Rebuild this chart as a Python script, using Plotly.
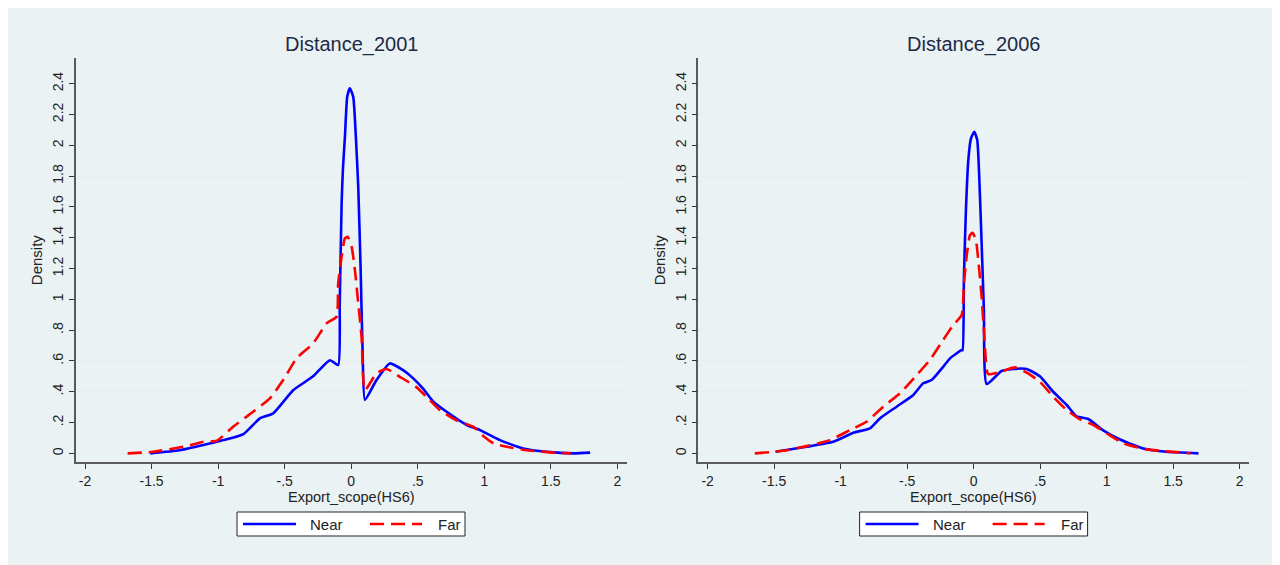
import plotly.graph_objects as go

# ---- data ----
# Distance_2001
near01_x = [-1.51, -1.29, -1.11, -0.96, -0.81, -0.686, -0.586, -0.436, -0.286, -0.16, -0.098,
            -0.086, -0.072, -0.062, -0.047, -0.03, -0.01, 0.015, 0.035, 0.053, 0.071, 0.086, 0.103,
            0.19, 0.29, 0.39, 0.466, 0.54, 0.617, 0.717, 0.868, 0.968, 1.118, 1.293, 1.469, 1.67, 1.795]
near01_y = [0.0, 0.02, 0.054, 0.086, 0.125, 0.227, 0.26, 0.41, 0.50, 0.605, 0.573,
            0.976, 1.625, 1.85, 2.056, 2.316, 2.37, 2.316, 2.056, 1.73, 1.19, 0.65, 0.346,
            0.476, 0.584, 0.54, 0.487, 0.42, 0.335, 0.27, 0.184, 0.151, 0.086, 0.032, 0.01, 0.0, 0.005]
far01_x = [-1.68, -1.49, -1.24, -1.11, -1.01, -0.887, -0.737, -0.611, -0.511, -0.41, -0.286, -0.185,
           -0.11, -0.098, -0.072, -0.047, -0.027, 0.003, 0.028, 0.053, 0.078, 0.103,
           0.19, 0.266, 0.366, 0.49, 0.59, 0.667, 0.79, 0.917, 0.99, 1.07, 1.17, 1.32, 1.52, 1.65]
far01_y = [0.0, 0.01, 0.047, 0.075, 0.082, 0.173, 0.27, 0.357, 0.476, 0.617, 0.714, 0.844,
           0.887, 1.10, 1.277, 1.396, 1.406, 1.342, 1.19, 0.974, 0.757, 0.41,
           0.52, 0.548, 0.497, 0.43, 0.346, 0.28, 0.215, 0.173, 0.115, 0.065, 0.043, 0.02, 0.005, 0.0]

# Distance_2006
near06_x = [-1.49, -1.256, -1.056, -0.905, -0.78, -0.705, -0.579, -0.454, -0.379, -0.316, -0.229,
            -0.178, -0.09, -0.083, -0.073, -0.058, -0.04, -0.02, 0.005, 0.027, 0.042, 0.06, 0.077, 0.098,
            0.21, 0.298, 0.398, 0.498, 0.598, 0.70, 0.774, 0.862, 0.974, 1.1, 1.275, 1.45, 1.69]
near06_y = [0.01, 0.043, 0.075, 0.134, 0.162, 0.227, 0.303, 0.379, 0.455, 0.476, 0.562,
            0.617, 0.671, 0.67, 1.147, 1.58, 1.905, 2.045, 2.088, 2.034, 1.796, 1.364, 0.93, 0.45,
            0.535, 0.548, 0.548, 0.50, 0.40, 0.314, 0.24, 0.223, 0.149, 0.09, 0.032, 0.01, 0.0]
far06_x = [-1.645, -1.43, -1.256, -1.08, -0.93, -0.805, -0.68, -0.554, -0.429, -0.329, -0.229, -0.153,
           -0.09, -0.073, -0.053, -0.028, -0.008, 0.017, 0.042, 0.06, 0.077, 0.098, 0.11,
           0.223, 0.31, 0.398, 0.498, 0.598, 0.70, 0.80, 0.9, 1.0, 1.125, 1.30, 1.50, 1.63]
far06_y = [0.0, 0.017, 0.047, 0.086, 0.151, 0.205, 0.303, 0.39, 0.508, 0.606, 0.736, 0.833,
           0.898, 1.104, 1.277, 1.417, 1.432, 1.385, 1.19, 1.017, 0.80, 0.541, 0.514,
           0.535, 0.558, 0.525, 0.465, 0.368, 0.281, 0.22, 0.184, 0.13, 0.065, 0.026, 0.01, 0.0]

titles = ["Distance_2001", "Distance_2006"]
series_names = ["Near", "Far"]
y_ticks = [0, 0.2, 0.4, 0.6, 0.8, 1, 1.2, 1.4, 1.6, 1.8, 2, 2.2, 2.4]
y_labels = ["0", ".2", ".4", ".6", ".8", "1", "1.2", "1.4", "1.6", "1.8", "2", "2.2", "2.4"]
x_ticks = [-2, -1.5, -1, -0.5, 0, 0.5, 1, 1.5, 2]
x_labels = ["-2", "-1.5", "-1", "-.5", "0", ".5", "1", "1.5", "2"]

W, H = 1280, 565
OFF = 8  # page body margin, figure is drawn 8px in from the window corner
BG = "#eaf2f3"
AXC = "#5a5a5a"
TXT = "#222222"
FONT = "Liberation Sans, Arial, sans-serif"
BLUE, RED = "#0000ff", "#ff0000"
DASH = "14px,7px"

def px(x):
    return (x - OFF) / W

def py(y):
    return 1 - (y - OFF) / H

fig = go.Figure()

panels = [(near01_x, near01_y, far01_x, far01_y, "x", "y"),
          (near06_x, near06_y, far06_x, far06_y, "x2", "y2")]
for nx, ny, fx, fy, xa, ya in panels:
    fig.add_trace(go.Scatter(x=nx, y=ny, mode="lines", name=series_names[0],
                             line=dict(color=BLUE, width=2.6, shape="spline", smoothing=0.5),
                             xaxis=xa, yaxis=ya, showlegend=False))
    fig.add_trace(go.Scatter(x=fx, y=fy, mode="lines", name=series_names[1],
                             line=dict(color=RED, width=2.6, dash=DASH, shape="spline", smoothing=0.5),
                             xaxis=xa, yaxis=ya, showlegend=False))

doms = [(75.7, 626.7), (698.3, 1249.0)]
ytop, ybot = 58.0, 462.3

axis_common = dict(showline=True, linecolor=AXC, linewidth=1.6, ticks="outside",
                   ticklen=5, tickcolor="#333333", tickwidth=1,
                   tickfont=dict(family=FONT, size=14, color=TXT),
                   zeroline=False, mirror=False)

layout = dict(width=W, height=H, margin=dict(l=0, r=0, t=0, b=0),
              paper_bgcolor="white", plot_bgcolor="white", showlegend=False,
              font=dict(family=FONT, size=14, color=TXT),
              annotations=[], shapes=[])

# grey-blue graph region behind both panels
layout["shapes"].append(dict(type="rect", xref="paper", yref="paper",
                             x0=px(5), x1=px(1276), y0=-0.05, y1=py(4),
                             fillcolor=BG, line=dict(width=0), layer="below"))

for i, (l, r) in enumerate(doms):
    sfx = "" if i == 0 else str(i + 1)
    layout["xaxis" + sfx] = dict(domain=[px(l), px(r)], range=[-2.07, 2.07],
                                 tickvals=x_ticks, ticktext=x_labels,
                                 showgrid=False, anchor="y" + sfx,
                                 **axis_common)
    layout["yaxis" + sfx] = dict(domain=[py(ybot), py(ytop)], range=[-0.058, 2.567],
                                 tickvals=y_ticks, ticktext=y_labels, tickangle=-90,
                                 showgrid=True, gridcolor="#e6eef0", gridwidth=1.2,
                                 anchor="x" + sfx,
                                 title=dict(text="Density", standoff=4,
                                            font=dict(family=FONT, size=15, color=TXT)),
                                 **axis_common)
    layout["annotations"].append(dict(text=titles[i], x=px((l + r) / 2), y=py(44),
                                      xref="paper", yref="paper", showarrow=False,
                                      xanchor="center", yanchor="middle",
                                      font=dict(family=FONT, size=20, color="#1c2a48")))
    layout["annotations"].append(dict(text="Export_scope(HS6)", x=px((l + r) / 2), y=py(497),
                                      xref="paper", yref="paper", showarrow=False,
                                      xanchor="center", yanchor="middle",
                                      font=dict(family=FONT, size=14.5, color=TXT)))

    # legend box under each panel
    dx = l - doms[0][0]
    layout["shapes"].append(dict(type="rect", xref="paper", yref="paper",
                                 x0=px(237 + dx), x1=px(465 + dx), y0=py(536), y1=py(512),
                                 fillcolor="white", line=dict(color=TXT, width=1)))
    layout["shapes"].append(dict(type="line", xref="paper", yref="paper",
                                 x0=px(243 + dx), x1=px(296 + dx), y0=py(524), y1=py(524),
                                 line=dict(color=BLUE, width=2.6)))
    layout["shapes"].append(dict(type="line", xref="paper", yref="paper",
                                 x0=px(370 + dx), x1=px(422 + dx), y0=py(524), y1=py(524),
                                 line=dict(color=RED, width=2.6, dash=DASH)))
    for name, tx in zip(series_names, [308, 436]):
        layout["annotations"].append(dict(text=name, x=px(tx + dx), y=py(524),
                                          xref="paper", yref="paper", showarrow=False,
                                          xanchor="left", yanchor="middle",
                                          font=dict(family=FONT, size=15, color=TXT)))

fig.update_layout(**layout)
fig.write_html("out.html")
